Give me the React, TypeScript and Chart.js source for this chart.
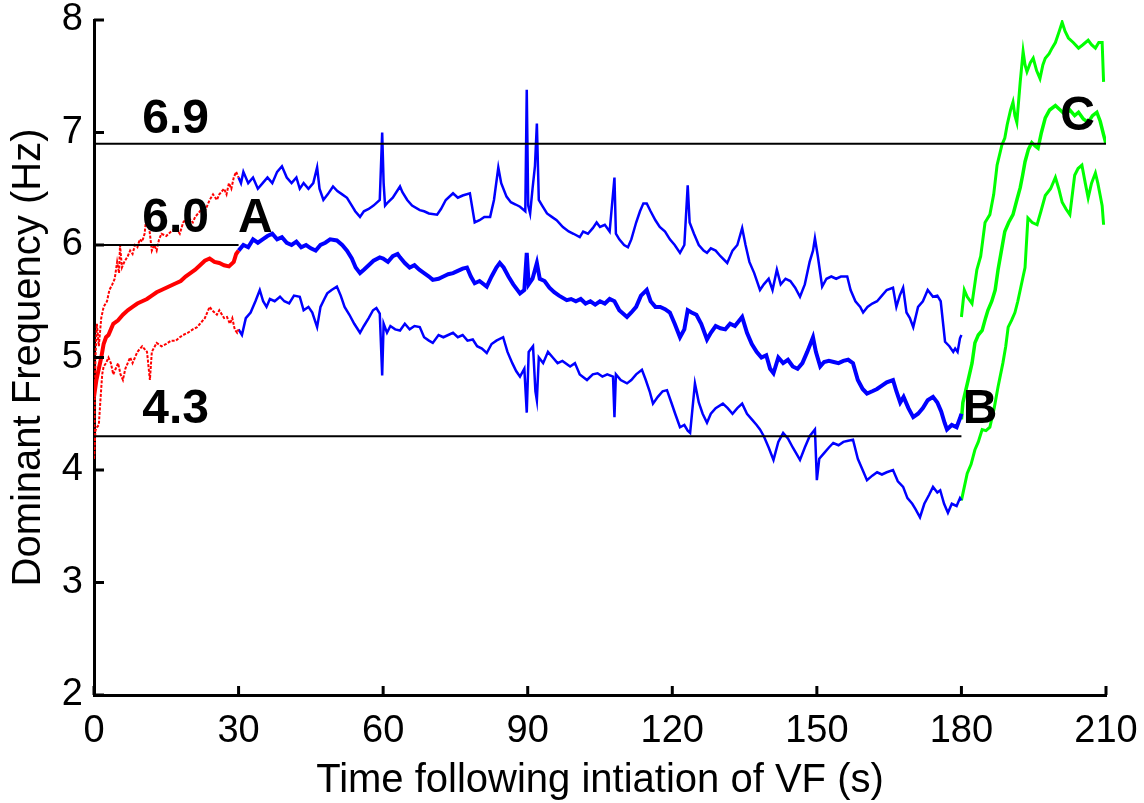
import React, { useEffect, useRef } from "react";
import { Chart, registerables } from "chart.js";

Chart.register(...registerables);

const FONT = "'Liberation Sans', Arial, Helvetica, sans-serif";

const xTickValues = [0, 30, 60, 90, 120, 150, 180, 210];
const yTickValues = [2, 3, 4, 5, 6, 7, 8];

const xTitle = "Time following intiation of VF (s)";
const yTitle = "Dominant Frequency (Hz)";

// Reference lines: [level, fromTime, toTime]
const refLines: [number, number, number][] = [
  [6.9, 0, 210],
  [6.0, 0, 30],
  [4.3, 0, 180],
];

// Annotation labels: [text, time, value]
const annotations: [string, number, number][] = [
  ["6.9", 10, 7.0],
  ["6.0", 10, 6.12],
  ["A", 29.9, 6.12],
  ["4.3", 10, 4.42],
  ["B", 180.3, 4.42],
  ["C", 200.5, 7.02],
];

// Phase 1 (0-30 s), red
const redUpper: [number, number][] = [
  [0, 4.1], [0.3, 5.0], [0.6, 5.3], [1, 5.1], [1.5, 5.35], [2, 5.45], [2.7, 5.5], [3.2, 5.6], [3.8, 5.65],
  [4.3, 5.7], [4.8, 5.85], [5.2, 5.75], [5.4, 6.0], [5.8, 5.8], [6.3, 5.85], [7, 5.9], [7.5, 5.95], [8, 5.92],
  [8.5, 6.0], [9, 5.98], [9.5, 6.05], [10, 6.03], [10.5, 6.1], [11, 6.3], [11.6, 6.1], [12, 5.95], [12.5, 6.0],
  [13, 5.95], [13.5, 6.05], [14, 6.1], [15, 6.08], [16, 6.12], [17, 6.15], [17.8, 6.1], [18.5, 6.2], [19.5, 6.25],
  [20.5, 6.2], [21, 6.25], [22, 6.3], [22.5, 6.35], [23, 6.3], [24, 6.4], [24.7, 6.45], [25.5, 6.4], [26, 6.45],
  [27, 6.5], [27.5, 6.45], [28, 6.55], [28.5, 6.5], [29, 6.6], [29.5, 6.65], [30, 6.6],
];
const redMiddle: [number, number][] = [
  [0, 4.65], [0.5, 4.8], [1, 4.9], [1.5, 5.0], [2, 5.12], [2.5, 5.18], [3, 5.2], [3.5, 5.25], [4, 5.3], [5, 5.33],
  [6, 5.38], [7, 5.42], [8, 5.45], [9, 5.48], [10, 5.5], [11, 5.52], [12, 5.55], [13, 5.58], [14, 5.6], [15, 5.62],
  [16, 5.64], [17, 5.66], [18, 5.68], [19, 5.72], [20, 5.75], [21, 5.78], [22, 5.82], [23, 5.86], [24, 5.88],
  [25, 5.85], [26, 5.84], [27, 5.82], [28, 5.81], [29, 5.85], [29.5, 5.92], [30, 5.95],
];
const redLower: [number, number][] = [
  [0, 4.1], [0.3, 4.35], [0.6, 4.38], [1, 4.4], [1.3, 4.6], [1.7, 4.85], [2, 4.92], [2.5, 4.95], [3, 5.0],
  [3.5, 4.95], [4, 4.85], [4.5, 4.9], [5, 4.95], [5.5, 4.85], [6, 4.8], [6.5, 4.9], [7, 4.95], [7.5, 5.0],
  [8, 4.95], [8.5, 5.0], [9, 5.05], [10, 5.1], [11, 5.05], [11.6, 4.8], [12, 5.05], [13, 5.13], [14, 5.1],
  [15, 5.12], [16, 5.15], [17, 5.15], [17.8, 5.18], [18.5, 5.2], [19.5, 5.22], [20.5, 5.25], [21.4, 5.27],
  [22, 5.3], [23, 5.35], [24, 5.45], [24.5, 5.42], [25.5, 5.38], [26, 5.42], [27, 5.35], [27.6, 5.36],
  [28.2, 5.3], [28.7, 5.35], [29.2, 5.25], [29.7, 5.22], [30, 5.25],
];

// Phase 2 (30-180 s), blue
const blueUpper: [number, number][] = [
  [30, 6.6], [30.5, 6.55], [31, 6.65], [32, 6.55], [33, 6.6], [34, 6.5], [35, 6.55], [36, 6.6], [37, 6.55],
  [38, 6.65], [39, 6.7], [40, 6.6], [41, 6.55], [42, 6.6], [42.7, 6.5], [43.5, 6.55], [44.5, 6.5], [45.5, 6.55],
  [46.3, 6.69], [46.8, 6.5], [47.6, 6.4], [48.5, 6.45], [49.6, 6.52], [50.5, 6.48], [51.5, 6.45], [52.5, 6.42],
  [53.5, 6.35], [54.2, 6.3], [55.2, 6.25], [56, 6.3], [57, 6.32], [58, 6.35], [59.3, 6.4], [59.8, 7.0],
  [60.1, 6.55], [60.4, 6.35], [61, 6.38], [62, 6.42], [63.5, 6.52], [64, 6.47], [65, 6.4], [66, 6.35],
  [67.6, 6.31], [68.5, 6.3], [69.5, 6.28], [71.2, 6.27], [72, 6.32], [73, 6.4], [74.5, 6.46], [75.5, 6.42],
  [76.5, 6.44], [78, 6.46], [79, 6.2], [80, 6.22], [81, 6.25], [82.2, 6.25], [83, 6.4], [83.9, 6.69],
  [84.5, 6.55], [85.6, 6.43], [86.5, 6.38], [87.5, 6.36], [88.4, 6.34], [89.5, 6.3], [89.8, 7.38], [90.1, 6.35],
  [90.5, 6.28], [91, 6.5], [91.5, 6.7], [91.9, 7.08], [92.3, 6.4], [93, 6.35], [94, 6.28], [95, 6.25],
  [96, 6.22], [97.3, 6.16], [98.5, 6.12], [99.5, 6.1], [100.8, 6.07], [101.5, 6.12], [102.5, 6.1],
  [103.5, 6.15], [104.3, 6.2], [105, 6.16], [106, 6.18], [107, 6.12], [108, 6.6], [108.3, 6.1], [109, 6.05],
  [110, 6.0], [110.8, 5.98], [111.5, 6.05], [112.5, 6.2], [113.3, 6.3], [114, 6.37], [114.7, 6.37],
  [115.5, 6.3], [116.5, 6.22], [117.4, 6.16], [118.5, 6.12], [119.5, 6.05], [120.5, 6.0], [121.6, 5.93],
  [122.5, 6.0], [123.2, 6.53], [123.6, 6.2], [124.5, 6.1], [125.5, 6.0], [126.5, 5.95], [127.2, 5.93],
  [128, 5.97], [129, 5.95], [130, 5.9], [131.4, 5.84], [132.5, 5.95], [133.5, 6.0], [134.5, 6.15],
  [135.2, 6.0], [136, 5.85], [137, 5.75], [138.2, 5.6], [139, 5.65], [140, 5.7], [140.8, 5.6], [141.7, 5.78],
  [142.5, 5.65], [143.5, 5.7], [144.5, 5.68], [145.5, 5.62], [146.5, 5.54], [147.5, 5.65], [148.5, 5.85],
  [149.2, 5.95], [149.6, 6.06], [150.2, 5.9], [151.1, 5.63], [152, 5.7], [153, 5.72], [154, 5.7], [155, 5.72],
  [156.3, 5.72], [157, 5.6], [158, 5.5], [159, 5.45], [159.6, 5.4], [160.5, 5.45], [161.5, 5.48], [162.5, 5.5],
  [163.5, 5.55], [164.5, 5.6], [165.8, 5.62], [166.5, 5.45], [167.2, 5.55], [167.9, 5.62], [168.6, 5.4],
  [169.3, 5.35], [170, 5.27], [171, 5.45], [172, 5.5], [173, 5.6], [174.1, 5.54], [175, 5.55], [175.7, 5.5],
  [176.6, 5.14], [177.5, 5.1], [178.3, 5.05], [178.7, 5.08], [179.2, 5.05], [179.7, 5.17], [180, 5.2],
];
const blueMiddle: [number, number][] = [
  [30, 5.95], [31, 6.0], [32, 5.98], [33, 6.05], [34, 6.02], [35, 6.05], [36, 6.08], [37, 6.1], [38, 6.05],
  [39, 6.07], [40, 6.02], [41, 6.0], [42, 6.03], [43, 5.98], [44, 6.0], [45, 5.97], [46, 5.95], [47, 6.0],
  [48, 6.02], [49, 6.05], [50.4, 6.04], [51.5, 6.0], [52.5, 5.95], [53.5, 5.88], [54.3, 5.8], [55.2, 5.75],
  [56, 5.78], [57, 5.82], [58, 5.86], [59.3, 5.89], [60, 5.88], [61, 5.85], [62, 5.9], [63, 5.92], [63.5, 5.89],
  [64.5, 5.84], [65.5, 5.8], [66.5, 5.82], [67.5, 5.78], [68.5, 5.75], [69.5, 5.72], [70.3, 5.69], [71.5, 5.7],
  [72.5, 5.72], [73.5, 5.74], [74.5, 5.75], [75.5, 5.77], [76.5, 5.79], [77.4, 5.8], [78.2, 5.72], [79, 5.66],
  [80, 5.68], [81.5, 5.63], [82.5, 5.72], [83.5, 5.8], [84.2, 5.84], [85, 5.8], [86, 5.72], [87, 5.65],
  [88.4, 5.57], [89.3, 5.6], [89.8, 5.93], [90.2, 5.65], [91, 5.7], [91.9, 5.84], [92.5, 5.7], [93.5, 5.68],
  [94.5, 5.62], [95.5, 5.58], [96.5, 5.55], [98.1, 5.51], [99, 5.52], [100, 5.5], [101, 5.52], [102, 5.48],
  [103, 5.5], [104, 5.47], [105, 5.5], [106, 5.48], [107, 5.52], [108, 5.5], [109, 5.42], [110.6, 5.36],
  [111.5, 5.4], [112.5, 5.45], [113.5, 5.55], [114.7, 5.6], [115.5, 5.5], [116.5, 5.45], [117.5, 5.45],
  [118.5, 5.43], [119.5, 5.4], [120.5, 5.3], [121.6, 5.18], [122.5, 5.25], [123.2, 5.42], [124, 5.4],
  [125, 5.38], [126, 5.3], [127.2, 5.16], [128, 5.22], [129, 5.28], [130, 5.26], [131, 5.25], [132, 5.3],
  [133, 5.28], [134.5, 5.36], [135.5, 5.22], [136.5, 5.12], [137.5, 5.05], [138.5, 5.0], [139.5, 5.02],
  [140.3, 4.9], [141, 4.86], [142, 5.0], [143, 4.95], [144, 4.98], [145, 4.92], [146, 4.9], [147, 4.95],
  [148, 5.05], [149.2, 5.18], [149.8, 5.05], [150.7, 4.92], [151.5, 4.96], [152.5, 4.97], [153.5, 4.96],
  [154.5, 4.95], [155.5, 4.97], [156.5, 4.98], [157.5, 4.95], [158.5, 4.8], [159.5, 4.72], [160.4, 4.68],
  [161.5, 4.7], [162.5, 4.72], [163.5, 4.75], [164.5, 4.78], [165.8, 4.8], [166.5, 4.7], [167.3, 4.6],
  [168, 4.65], [169, 4.55], [170, 4.47], [171, 4.5], [172, 4.55], [173, 4.62], [174.1, 4.65], [175, 4.6],
  [175.8, 4.52], [176.5, 4.42], [177, 4.36], [178, 4.4], [179, 4.38], [179.7, 4.46], [180, 4.5],
];
const blueLower: [number, number][] = [
  [30, 5.25], [30.7, 5.2], [31.5, 5.35], [32.5, 5.4], [33.5, 5.5], [34.4, 5.6], [35.1, 5.5], [35.8, 5.45],
  [36.5, 5.52], [37.5, 5.5], [38.6, 5.54], [39.5, 5.5], [40.5, 5.48], [41.5, 5.55], [42.7, 5.54], [43.5, 5.42],
  [44.5, 5.45], [45.3, 5.4], [46.3, 5.27], [47, 5.45], [47.8, 5.52], [48.4, 5.57], [49.3, 5.6], [50.4, 5.63],
  [51.2, 5.55], [52, 5.45], [53, 5.38], [54, 5.3], [55.2, 5.22], [56, 5.28], [57, 5.35], [57.9, 5.42],
  [58.6, 5.44], [59.3, 5.39], [59.8, 4.84], [60.1, 5.3], [60.8, 5.22], [61.5, 5.28], [62.5, 5.25],
  [63.5, 5.24], [64.5, 5.3], [65.5, 5.25], [66.5, 5.28], [67.6, 5.27], [68.5, 5.18], [69.5, 5.15],
  [70.3, 5.13], [71.5, 5.2], [72.5, 5.18], [73.5, 5.2], [74.5, 5.22], [75.5, 5.18], [76.5, 5.2], [77.5, 5.15],
  [78.6, 5.16], [79.5, 5.1], [80.5, 5.08], [81.5, 5.04], [82.5, 5.12], [83.5, 5.15], [84.9, 5.18],
  [85.8, 5.05], [86.8, 4.95], [87.6, 4.88], [88.4, 4.83], [89.3, 4.9], [89.8, 4.51], [90.2, 5.05],
  [91.1, 5.1], [91.6, 4.7], [91.9, 4.62], [92.3, 5.0], [93.2, 4.95], [94.2, 5.05], [95.2, 5.0], [96.2, 4.95],
  [97.2, 4.97], [98.8, 4.92], [99.8, 4.95], [100.8, 4.85], [102.3, 4.8], [103.5, 4.85], [104.5, 4.86],
  [105.5, 4.83], [106.5, 4.85], [107.7, 4.83], [108, 4.47], [108.3, 4.85], [109.3, 4.8], [110.6, 4.77],
  [111.5, 4.8], [112.5, 4.85], [113.7, 4.89], [114.5, 4.8], [115.3, 4.7], [116, 4.59], [117, 4.65], [118, 4.7],
  [118.9, 4.71], [119.8, 4.6], [120.6, 4.5], [121.6, 4.38], [122.5, 4.4], [123.2, 4.35], [123.7, 4.33],
  [124.7, 4.77], [125.5, 4.6], [126.3, 4.5], [127.2, 4.42], [128, 4.5], [129, 4.55], [130.5, 4.59],
  [131.5, 4.55], [132.5, 4.5], [133.5, 4.55], [134.5, 4.59], [135.5, 4.5], [136.5, 4.45], [137.5, 4.4],
  [138.2, 4.36], [139, 4.3], [140, 4.2], [141, 4.09], [142, 4.25], [143, 4.33], [144, 4.28], [145, 4.2],
  [146.5, 4.09], [147.5, 4.2], [148.5, 4.3], [149.6, 4.36], [150, 3.91], [150.5, 4.1], [151.5, 4.15],
  [152.5, 4.2], [153.4, 4.24], [154.5, 4.22], [155.5, 4.25], [156.5, 4.26], [157.5, 4.27], [158.5, 4.1],
  [159.5, 4.0], [160.4, 3.91], [161.5, 3.95], [162.5, 3.98], [163.5, 3.96], [164.5, 3.98], [165.8, 4.0],
  [166.8, 3.9], [167.9, 3.85], [168.8, 3.75], [169.8, 3.7], [170.5, 3.65], [171.4, 3.58], [172.3, 3.7],
  [173.3, 3.78], [174.1, 3.85], [175, 3.8], [175.6, 3.82], [176.4, 3.7], [177.2, 3.62], [178, 3.7],
  [179, 3.68], [179.7, 3.75], [180, 3.73],
];

// Phase 3 (180-210 s), green
const greenUpper: [number, number][] = [
  [180, 5.36], [180.6, 5.6], [181.2, 5.54], [182.2, 5.48], [183.2, 5.78], [184, 5.9], [184.9, 6.2],
  [185.9, 6.27], [186.7, 6.45], [187.4, 6.71], [188.4, 6.89], [189, 6.95], [189.5, 7.07], [190.2, 7.2],
  [190.7, 7.27], [191.1, 7.15], [191.5, 7.09], [192.2, 7.45], [192.8, 7.72], [193.2, 7.6], [193.6, 7.54],
  [194.3, 7.62], [194.9, 7.66], [195.6, 7.55], [196.3, 7.48], [196.9, 7.6], [197.4, 7.66], [198.2, 7.7],
  [198.8, 7.75], [199.5, 7.8], [200.3, 7.9], [200.9, 7.98], [201.5, 7.9], [202.2, 7.84], [203.2, 7.8],
  [204.3, 7.75], [205.2, 7.78], [206.3, 7.82], [207, 7.78], [207.8, 7.75], [208.5, 7.8], [209.2, 7.8],
  [209.5, 7.45],
];
const greenMiddle: [number, number][] = [
  [180, 4.45], [180.3, 4.6], [181.4, 4.8], [182.2, 4.95], [182.8, 5.13], [183.5, 5.2], [184.3, 5.24],
  [185, 5.35], [185.5, 5.42], [186.3, 5.5], [187, 5.6], [187.6, 5.78], [188.3, 5.95], [189, 6.12],
  [189.8, 6.2], [190.7, 6.27], [191.5, 6.4], [192.2, 6.51], [192.7, 6.62], [193.2, 6.74], [193.9, 6.85],
  [194.6, 6.91], [195.3, 6.88], [195.9, 6.86], [196.6, 7.0], [197.4, 7.13], [198.3, 7.2], [199.5, 7.24],
  [200.5, 7.2], [201.5, 7.16], [202.5, 7.2], [203.5, 7.15], [204.3, 7.18], [205.3, 7.12], [206.3, 7.09],
  [207.2, 7.15], [208.1, 7.18], [208.8, 7.1], [209.5, 6.98], [210, 6.9],
];
const greenLower: [number, number][] = [
  [180, 3.73], [180.6, 3.85], [181.2, 3.97], [182, 4.05], [182.8, 4.18], [183.5, 4.25], [184.3, 4.36],
  [185.1, 4.35], [185.9, 4.38], [186.8, 4.55], [187.6, 4.74], [188.6, 4.95], [189.2, 5.1], [189.7, 5.27],
  [190.4, 5.33], [191.1, 5.4], [191.7, 5.5], [192.2, 5.6], [192.7, 5.7], [193.2, 5.8], [193.8, 6.24],
  [194.7, 6.2], [195.7, 6.18], [196.5, 6.3], [197.4, 6.44], [198.5, 6.5], [199.5, 6.6], [200.2, 6.5],
  [200.9, 6.38], [201.7, 6.32], [202.5, 6.27], [203.5, 6.62], [204.2, 6.68], [205, 6.71], [205.7, 6.55],
  [206.3, 6.42], [207, 6.55], [207.8, 6.64], [208.3, 6.55], [208.8, 6.44], [209.2, 6.35], [209.5, 6.18],
];

const toXY = (arr: [number, number][]) => arr.map(([x, y]) => ({ x, y }));

const overlayPlugin = {
  id: "overlay",
  afterDraw(chart: any) {
    const { ctx, chartArea } = chart;
    const xs = chart.scales.x;
    const ys = chart.scales.y;
    ctx.save();
    ctx.strokeStyle = "#000";
    ctx.lineWidth = 3;
    yTickValues.forEach((v) => {
      const py = ys.getPixelForValue(v);
      ctx.beginPath();
      ctx.moveTo(chartArea.left, py);
      ctx.lineTo(chartArea.left + 10, py);
      ctx.stroke();
    });
    xTickValues.forEach((v) => {
      const px = xs.getPixelForValue(v);
      ctx.beginPath();
      ctx.moveTo(px, chartArea.bottom);
      ctx.lineTo(px, chartArea.bottom - 9);
      ctx.stroke();
    });
    ctx.fillStyle = "#000";
    ctx.font = `bold 48px ${FONT}`;
    ctx.textAlign = "left";
    ctx.textBaseline = "alphabetic";
    annotations.forEach(([text, t, v]) => {
      ctx.fillText(text, xs.getPixelForValue(t), ys.getPixelForValue(v));
    });
    ctx.restore();
  },
};

const zeroPadding = (s: any) => {
  s.paddingTop = 0;
  s.paddingBottom = 0;
  s.paddingLeft = 0;
  s.paddingRight = 0;
};

export default function App() {
  const ref = useRef<HTMLCanvasElement | null>(null);
  useEffect(() => {
    document.body.style.margin = "0";
    const canvas = ref.current;
    if (!canvas) return;
    const line = (data: [number, number][], color: string, width: number, dash?: number[]) => ({
      data: toXY(data),
      borderColor: color,
      borderWidth: width,
      borderDash: dash || [],
      pointRadius: 0,
      tension: 0,
      fill: false,
    });
    const datasets: any[] = [
      ...refLines.map(([lvl, a, b]) => ({
        data: [
          { x: a, y: lvl },
          { x: b, y: lvl },
        ],
        borderColor: "#000",
        borderWidth: 2,
        pointRadius: 0,
        fill: false,
      })),
      line(redMiddle, "#ff0000", 4),
      line(redUpper, "#ff0000", 2, [3, 1.5]),
      line(redLower, "#ff0000", 2, [3, 1.5]),
      line(blueMiddle, "#0000ff", 4),
      line(blueUpper, "#0000ff", 2.5),
      line(blueLower, "#0000ff", 2.5),
      line(greenMiddle, "#00ff00", 3.5),
      line(greenUpper, "#00ff00", 3),
      line(greenLower, "#00ff00", 3),
    ];
    const chart = new Chart(canvas, {
      type: "line",
      data: { datasets },
      options: {
        animation: false,
        responsive: false,
        devicePixelRatio: 1,
        parsing: false as any,
        normalized: true,
        layout: { padding: { left: 0, right: 38, top: 20, bottom: 0 } },
        plugins: {
          legend: { display: false },
          tooltip: { enabled: false },
        },
        scales: {
          x: {
            type: "linear",
            min: 0,
            max: 210,
            afterFit: (s: any) => {
              s.height = 108;
              zeroPadding(s);
            },
            afterBuildTicks: (s: any) => {
              s.ticks = xTickValues.map((v) => ({ value: v }));
            },
            grid: { display: false, drawTicks: false },
            border: { display: true, color: "#000", width: 3 },
            ticks: {
              color: "#000",
              padding: 18,
              maxRotation: 0,
              font: { family: FONT, size: 38, lineHeight: 1 },
            },
            title: {
              display: true,
              text: xTitle,
              color: "#000",
              font: { family: FONT, size: 40, lineHeight: 1 },
              padding: { top: 0, bottom: 2 },
            },
          },
          y: {
            type: "linear",
            min: 2,
            max: 8,
            afterFit: (s: any) => {
              s.width = 94;
              zeroPadding(s);
            },
            afterBuildTicks: (s: any) => {
              s.ticks = yTickValues.map((v) => ({ value: v }));
            },
            grid: { display: false, drawTicks: false },
            border: { display: true, color: "#000", width: 3 },
            ticks: {
              color: "#000",
              padding: 11,
              font: { family: FONT, size: 38, lineHeight: 1 },
            },
            title: {
              display: true,
              text: yTitle,
              color: "#000",
              font: { family: FONT, size: 40, lineHeight: 1 },
              padding: { top: 9, bottom: 0 },
            },
          },
        },
      },
      plugins: [overlayPlugin],
    });
    return () => chart.destroy();
  }, []);
  return (
    <div style={{ position: "absolute", left: 0, top: 0, width: 1144, height: 803 }}>
      <canvas ref={ref} width={1144} height={803} style={{ display: "block" }} />
    </div>
  );
}
